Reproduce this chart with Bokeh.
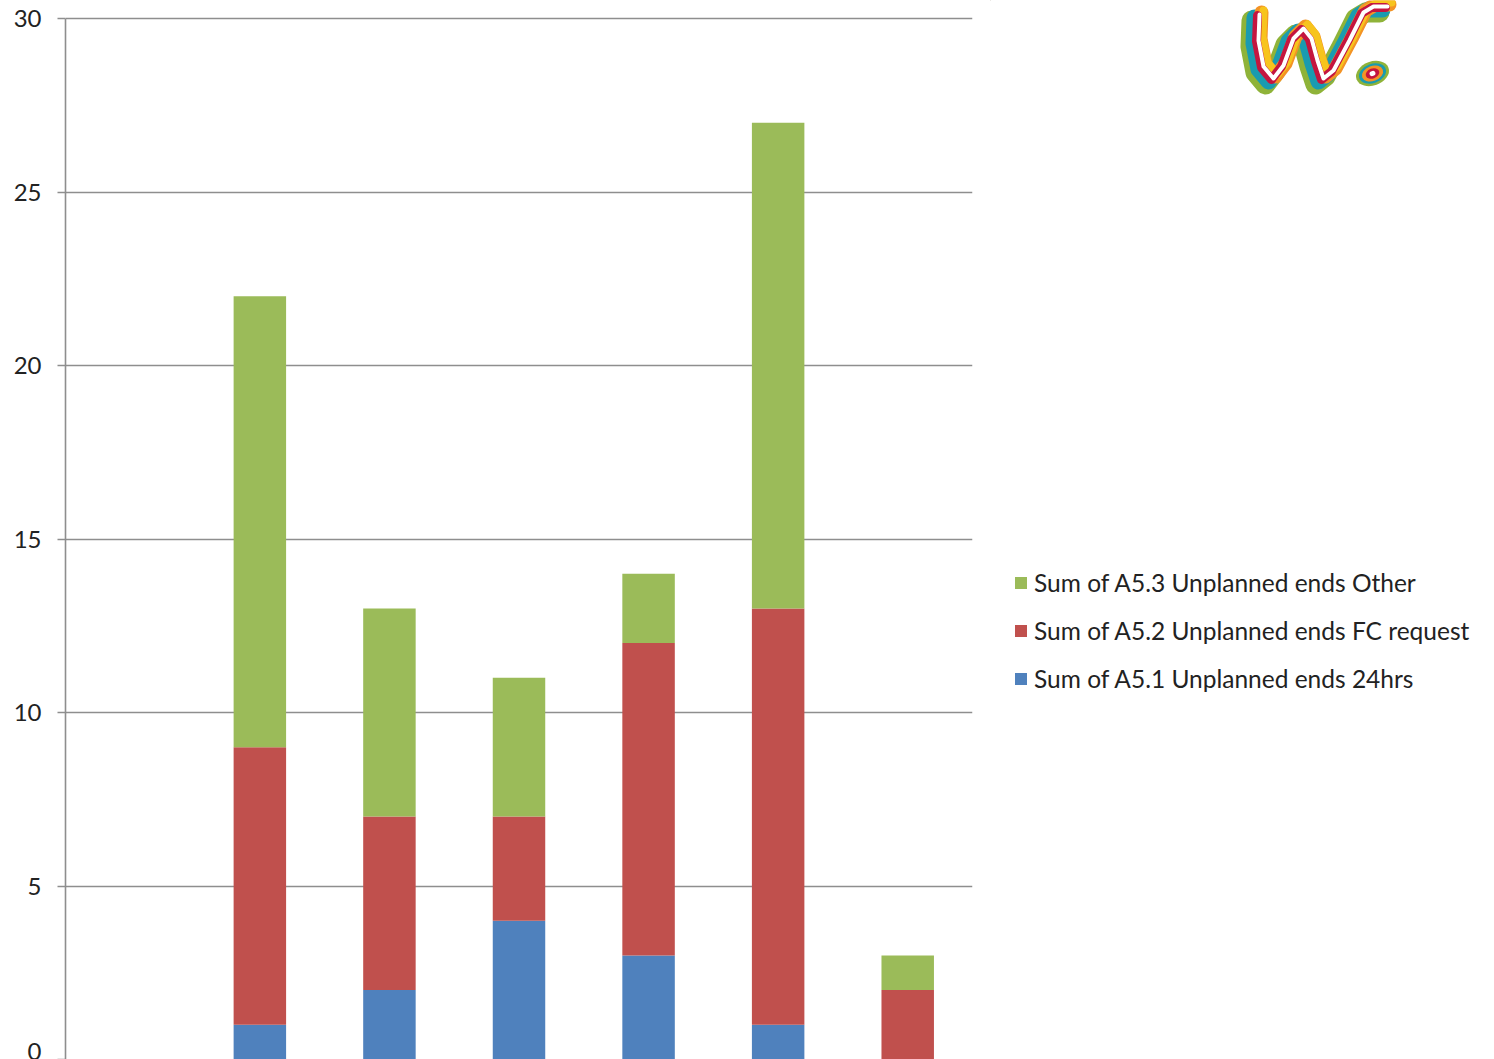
from bokeh.plotting import figure
from bokeh.layouts import row
from bokeh.models import Range1d, Legend, LegendItem, ColumnDataSource, FixedTicker
from bokeh.embed import file_html
from bokeh.resources import INLINE

# Categories (first one has no counts) and the three stacked series
categories = ["1", "2", "3", "4", "5", "6", "7"]
ends_24hrs = [0, 1, 2, 4, 3, 1, 0]
ends_fc_request = [0, 8, 5, 3, 9, 12, 2]
ends_other = [0, 13, 6, 4, 2, 14, 1]

series_names = [
    "Sum of A5.1 Unplanned ends 24hrs",
    "Sum of A5.2 Unplanned ends FC request",
    "Sum of A5.3 Unplanned ends Other",
]
y_ticks = [0, 5, 10, 15, 20, 25, 30]

colors = ["#4F81BD", "#C0504D", "#9BBB59"]
FONT = "Lato"
GRID = "#8e8e8e"

source = ColumnDataSource(dict(
    cat=categories,
    s1=ends_24hrs,
    s2=ends_fc_request,
    s3=ends_other,
))

# ---- main stacked-bar chart ----
# the frame runs to the top edge; a little headroom above 30 leaves space for the top label
p = figure(
    x_range=categories,
    y_range=Range1d(0, 30.52),
    width=990, height=1059,
    min_border_left=65, min_border_right=18,
    min_border_top=0, min_border_bottom=0,
    x_axis_location=None,
    toolbar_location=None,
    output_backend="svg",
)
p.outline_line_color = None
p.border_fill_color = "white"

p.vbar_stack(["s1", "s2", "s3"], x="cat", width=0.405, color=colors,
             line_color=None, source=source)

p.xgrid.visible = False
p.ygrid.ticker = FixedTicker(ticks=y_ticks)
p.ygrid.grid_line_color = GRID
p.ygrid.grid_line_width = 1.6

ax = p.yaxis[0]
ax.ticker = FixedTicker(ticks=y_ticks)
ax.bounds = (0, 30)
ax.axis_line_color = GRID
ax.axis_line_width = 1.6
ax.major_tick_line_color = GRID
ax.major_tick_line_width = 1.6
ax.major_tick_out = 8
ax.major_tick_in = 0
ax.minor_tick_line_color = None
ax.major_label_text_font = FONT
ax.major_label_text_font_size = "24px"
ax.major_label_text_color = "#222222"
ax.major_label_standoff = 16

# ---- side panel: legend and emblem ----
side = figure(
    x_range=Range1d(0, 504), y_range=Range1d(1059, 0),
    width=504, height=1059,
    min_border=0, toolbar_location=None, title_location=None,
    x_axis_location=None, y_axis_location=None,
    output_backend="svg",
)
side.outline_line_color = None
side.xgrid.visible = False
side.ygrid.visible = False

# legend keys: one off-canvas swatch per series colour
keys = [side.vbar(x=[-500], top=[-500], bottom=-510, width=1, color=c, line_color=None)
        for c in colors]

legend = Legend(
    items=[LegendItem(label=series_names[i], renderers=[keys[i]]) for i in (2, 1, 0)],
    location=(23, 366),
    orientation="vertical",
    label_text_font=FONT,
    label_text_font_size="24.5px",
    label_text_color="#222222",
    glyph_width=15, glyph_height=15,
    label_standoff=6,
    label_height=24,
    spacing=19,
    padding=0, margin=0,
    border_line_color=None,
    background_fill_alpha=0,
)
side.add_layout(legend, "center")

# Brush-stroke "W." emblem: one path stroked in offset coloured ribbons
w_x = [268, 267, 272, 282, 292, 302, 312, 320, 326, 332, 342, 358, 372, 382, 396]
w_y = [14, 40, 66, 78, 65, 38, 28, 38, 60, 78, 70, 40, 12, 6, 6]
strokes = [
    ("#8fb339", -7, 6, 20),
    ("#1a9bb0", -4, 3, 16),
    ("#f39325", 3, -2, 14),
    ("#f7c41d", 5, -4, 8),
    ("#c4153f", -1, 1, 9),
    ("#ffffff", 1, 0, 4),
]
for col, dx, dy, lw in strokes:
    side.line([x + dx for x in w_x], [y + dy for y in w_y], line_color=col,
              line_width=lw, line_join="round", line_cap="round")
for col, w, h in [("#8fb339", 34, 24), ("#1a9bb0", 28, 19), ("#f39325", 22, 15),
                  ("#c4153f", 14, 10), ("#ffffff", 6, 5)]:
    side.ellipse(x=[382], y=[73], width=w, height=h, angle=0.35,
                 color=col, line_color=None)

layout = row(p, side, spacing=0)
open("out.html", "w").write(file_html(layout, INLINE))
